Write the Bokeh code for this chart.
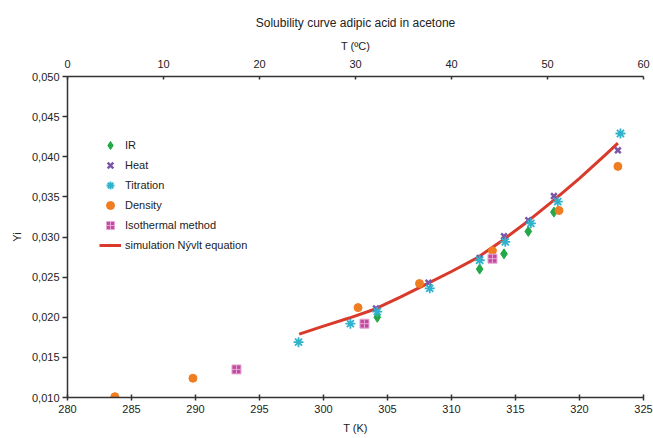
from bokeh.plotting import figure
from bokeh.models import Range1d, LinearAxis, FixedTicker, CustomJSTickFormatter, Legend, LegendItem
from bokeh.embed import file_html
from bokeh.resources import INLINE

title_text = "Solubility curve adipic acid in acetone"

ir_t = [304.2, 312.2, 314.1, 316.0, 318.0]
ir_y = [0.0200, 0.0260, 0.0279, 0.0307, 0.0331]

heat_t = [304.1, 308.2, 312.2, 314.1, 316.0, 318.0, 323.0]
heat_y = [0.0211, 0.0243, 0.0274, 0.0301, 0.0321, 0.0351, 0.0408]

tit_t = [298.05, 302.1, 304.2, 308.3, 312.2, 314.2, 316.2, 318.3, 323.2]
tit_y = [0.0169, 0.0192, 0.0207, 0.0236, 0.0271, 0.0294, 0.0317, 0.0344, 0.0429]

den_t = [283.7, 289.8, 302.7, 307.5, 313.2, 318.4, 323.0]
den_y = [0.0101, 0.0124, 0.0212, 0.0242, 0.0283, 0.0333, 0.0388]

iso_t = [293.2, 303.2, 313.2]
iso_y = [0.0135, 0.0192, 0.0273]

sim_t = [298.1, 300, 302, 304, 306, 308, 310, 312, 314, 316, 318, 320, 322, 323]
sim_y = [0.0179, 0.0189, 0.0199, 0.0210, 0.0225, 0.0241, 0.0257, 0.0274, 0.0296,
         0.0320, 0.0346, 0.0373, 0.0402, 0.0417]

x_ticks = [280, 285, 290, 295, 300, 305, 310, 315, 320, 325]
c_ticks = [0, 10, 20, 30, 40, 50, 60]
y_ticks = [0.010, 0.015, 0.020, 0.025, 0.030, 0.035, 0.040, 0.045, 0.050]

FONT = "Liberation Sans"
AX = "#333333"

p = figure(width=653, height=438, output_backend="svg", toolbar_location=None,
           x_range=Range1d(280, 325), y_range=Range1d(0.010, 0.050),
           x_axis_location=None,
           min_border_left=67, min_border_right=10, min_border_top=76, min_border_bottom=41,
           title=title_text)
p.outline_line_color = None
p.xgrid.visible = False
p.ygrid.visible = False
p.background_fill_color = "white"
p.border_fill_color = "white"

p.title.align = "center"
p.title.text_font = FONT
p.title.text_font_size = "12px"
p.title.text_font_style = "normal"
p.title.text_color = "#222222"
p.title.offset = 0
p.title.standoff = 14

p.extra_x_ranges = {"c": Range1d(0, 60)}
top = LinearAxis(x_range_name="c", axis_label="T (ºC)")
top.ticker = FixedTicker(ticks=c_ticks)
p.add_layout(top, "above")

xa = LinearAxis(axis_label="T (K)")
xa.ticker = FixedTicker(ticks=x_ticks)
p.add_layout(xa, "below")

ya = p.yaxis[0]
ya.ticker = FixedTicker(ticks=y_ticks)
ya.axis_label = "Yi"
ya.formatter = CustomJSTickFormatter(code="return tick.toFixed(3).replace('.', ',');")

for ax in [xa, ya, top]:
    ax.axis_line_color = AX
    ax.axis_line_width = 1.5
    ax.major_tick_line_color = AX
    ax.major_tick_line_width = 1.5
    ax.minor_tick_line_color = None
    ax.major_label_text_font = FONT
    ax.major_label_text_font_size = "11px"
    ax.major_label_text_color = "#222222"
    ax.axis_label_text_font = FONT
    ax.axis_label_text_font_size = "11px"
    ax.axis_label_text_font_style = "normal"
    ax.axis_label_text_color = "#222222"

xa.major_tick_in = 3
xa.major_tick_out = 3
xa.major_label_standoff = 4
xa.axis_label_standoff = 6
ya.major_tick_in = 0
ya.major_tick_out = 5
ya.major_label_standoff = 3
ya.axis_label_standoff = 6
top.major_tick_in = 3
top.major_tick_out = 0
top.major_label_standoff = 9
top.axis_label_standoff = 5

r_sim = p.line(sim_t, sim_y, line_color="#d93a2b", line_width=3)
r_ir = p.scatter(ir_t, ir_y, marker="diamond", size=10, fill_color="#22a847", line_color="#22a847")
r_heat = p.scatter(heat_t, heat_y, marker="x", size=8, line_color="#7d55a8", line_width=2.5)
r_tit = p.scatter(tit_t, tit_y, marker="asterisk", size=10, line_color="#2fb3cc", line_width=1.8)
r_den = p.scatter(den_t, den_y, marker="circle", size=8, fill_color="#ef7d22", line_color="#ef7d22")
r_iso = p.scatter(iso_t, iso_y, marker="square_cross", size=9, fill_color="#c24b9f",
                  line_color="#e7a6d6", line_width=1)

legend = Legend(items=[
    LegendItem(label="IR", renderers=[r_ir]),
    LegendItem(label="Heat", renderers=[r_heat]),
    LegendItem(label="Titration", renderers=[r_tit]),
    LegendItem(label="Density", renderers=[r_den]),
    LegendItem(label="Isothermal method", renderers=[r_iso]),
    LegendItem(label="simulation Nývlt equation", renderers=[r_sim]),
], location=(32, 142))
legend.background_fill_alpha = 0
legend.border_line_color = None
legend.label_text_font = FONT
legend.label_text_font_size = "11px"
legend.label_text_color = "#222222"
legend.glyph_width = 22
legend.glyph_height = 20
legend.label_height = 20
legend.spacing = 0
legend.padding = 5
legend.label_standoff = 4
p.add_layout(legend, "center")

open("out.html", "w").write(file_html(p, INLINE))
